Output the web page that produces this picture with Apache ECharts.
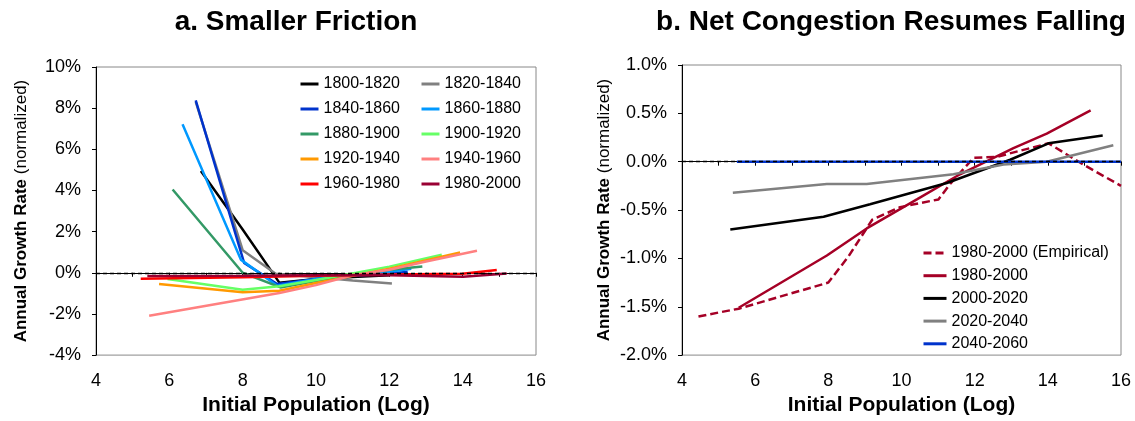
<!DOCTYPE html>
<html lang="en">
<head>
<meta charset="UTF-8">
<title>Annual growth rate by initial population</title>
<script src="https://cdn.jsdelivr.net/npm/echarts@6/dist/echarts.min.js"></script>
<style>
  body { margin: 0; background: #fff; }
  #chart { width: 1135px; height: 421px; }
</style>
</head>
<body>
<div id="chart"></div>
<script>
// panel a: [log initial population, growth rate %]
var a1800 = [[6.86, 4.95], [8, 2.1], [9, -0.48], [10, -0.3], [11, -0.2], [12, -0.12]];
var a1820 = [[6.72, 8.3], [8, 1.1], [8.9, -0.05], [10.2, -0.24], [11, -0.38], [12.07, -0.52]];
var a1840 = [[6.72, 8.38], [8.04, 0.48], [8.94, -0.55], [10, -0.3], [11, -0.15], [12, -0.05], [12.5, 0.05]];
var a1860 = [[6.36, 7.22], [7.95, 0.64], [8.94, -0.63], [10, -0.3], [11, -0.1], [12, 0.05], [12.6, 0.19]];
var a1880 = [[6.09, 4.05], [8, 0], [9.03, -0.71], [10, -0.4], [11, -0.1], [12, 0.15], [12.9, 0.3]];
var a1900 = [[5.95, -0.3], [8, -0.82], [9, -0.65], [10, -0.35], [11.1, 0], [12, 0.3], [13.43, 0.88]];
var a1920 = [[5.72, -0.55], [8, -0.95], [9, -0.87], [10, -0.5], [11, -0.15], [12, 0.2], [13.93, 0.99]];
var a1940 = [[5.45, -2.09], [9, -0.98], [10, -0.6], [11, -0.12], [12, 0.15], [13, 0.55], [14.39, 1.07]];
var a1960 = [[5.22, -0.29], [8, -0.22], [10, -0.15], [12, -0.08], [14, -0.05], [14.93, 0.13]];
var a1980 = [[5.4, -0.16], [8, -0.15], [10, -0.12], [12, -0.12], [14.01, -0.19], [15.2, -0.03]];

// panel b
var bEmpirical = [[4.45, -1.6], [5.55, -1.52], [8, -1.25], [8.55, -0.98], [9.2, -0.6], [9.96, -0.47],
  [11.01, -0.39], [11.33, -0.23], [11.97, 0.04], [12.6, 0.05], [14.02, 0.19], [14.97, -0.03], [16, -0.25]];
var b1980 = [[5.55, -1.51], [7.96, -0.97], [9.05, -0.69], [10.42, -0.39], [11.6, -0.13], [13.06, 0.14], [13.97, 0.29], [15.17, 0.53]];
var b2000 = [[5.32, -0.7], [7.87, -0.57], [9.14, -0.44], [11.24, -0.22], [12.97, 0.02], [14.02, 0.19], [15.5, 0.27]];
var b2020 = [[5.39, -0.32], [7.96, -0.23], [9.05, -0.23], [11.42, -0.13], [12.79, -0.03], [13.97, 0], [15.79, 0.17]];
var b2040 = [[5.5, 0], [16, 0]];

var namesA = ['1800-1820', '1820-1840', '1840-1860', '1860-1880', '1880-1900',
  '1900-1920', '1920-1940', '1940-1960', '1960-1980', '1980-2000'];
var colorsA = ['#000000', '#808080', '#0033CC', '#0099FF', '#339966',
  '#66FF66', '#FF9900', '#FF8080', '#FF0000', '#990033'];
var dataA = [a1800, a1820, a1840, a1860, a1880, a1900, a1920, a1940, a1960, a1980];

var namesB = ['1980-2000 (Empirical)', '1980-2000 ', '2000-2020', '2020-2040', '2040-2060'];
var colorsB = ['#A50026', '#A50026', '#000000', '#808080', '#0033CC'];
var dataB = [bEmpirical, b1980, b2000, b2020, b2040];

var font = 'Liberation Sans, Arial, sans-serif';

var zeroLine = {
  silent: true,
  symbol: ['none', 'none'],
  label: { show: false },
  lineStyle: { color: '#000', type: [4, 3], width: 1.3 },
  data: [{ yAxis: 0 }]
};

var series = [];
dataA.forEach(function (d, i) {
  var s = {
    name: namesA[i], type: 'line', xAxisIndex: 0, yAxisIndex: 0,
    data: d, symbol: 'none',
    lineStyle: { color: colorsA[i], width: 2.5 },
    itemStyle: { color: colorsA[i] }
  };
  if (i === 0) s.markLine = zeroLine;
  series.push(s);
});
dataB.forEach(function (d, i) {
  var s = {
    name: namesB[i], type: 'line', xAxisIndex: 1, yAxisIndex: 1,
    data: d, symbol: 'none',
    lineStyle: { color: colorsB[i], width: 2.5, type: i === 0 ? [8, 4] : 'solid' },
    itemStyle: { color: colorsB[i] }
  };
  if (i === 0) s.markLine = zeroLine;
  series.push(s);
});

function xAxisOf(idx) {
  return {
    type: 'value', gridIndex: idx, min: 4, max: 16, interval: 2,
    name: 'Initial Population (Log)', nameLocation: 'middle', nameGap: 38,
    nameTextStyle: { fontFamily: font, fontSize: 21, fontWeight: 'bold', color: '#000' },
    axisLine: { lineStyle: { color: '#000', width: 1 } },
    axisTick: { length: 4, lineStyle: { color: '#000' } },
    minorTick: { show: true, splitNumber: 2, length: 4, lineStyle: { color: '#000' } },
    splitLine: { show: false },
    axisLabel: { fontFamily: font, fontSize: 18, color: '#000', margin: 17 }
  };
}

function yAxisOf(idx, min, max, step, fmt, gap) {
  return {
    type: 'value', gridIndex: idx, min: min, max: max, interval: step,
    name: '{b|Annual Growth Rate} {n|(normalized)}', nameLocation: 'middle', nameGap: gap,
    nameTextStyle: {
      fontFamily: font, fontSize: 17, color: '#000',
      rich: {
        b: { fontFamily: font, fontSize: 17, fontWeight: 'bold', color: '#000' },
        n: { fontFamily: font, fontSize: 17, color: '#000' }
      }
    },
    axisLine: { show: true, lineStyle: { color: '#000', width: 1 } },
    axisTick: { show: true, length: 4, lineStyle: { color: '#000' } },
    splitLine: { show: false },
    axisLabel: { fontFamily: font, fontSize: 18, color: '#000', margin: 15, formatter: fmt }
  };
}

// legend draws the line only, no marker
var legendBase = {
  orient: 'vertical', padding: 0, itemHeight: 14,
  itemStyle: { opacity: 0 },
  lineStyle: { width: 3 },
  textStyle: { fontFamily: font, fontSize: 16, lineHeight: 16, color: '#000' }
};
function legendOf(extra) {
  return Object.assign({}, legendBase, extra);
}

var option = {
  animation: false,
  backgroundColor: '#fff',
  title: [
    { text: 'a. Smaller Friction', left: 296, top: 8, textAlign: 'center', padding: 0,
      textStyle: { fontFamily: font, fontSize: 28, fontWeight: 'bold', color: '#000' } },
    { text: 'b. Net Congestion Resumes Falling', left: 891, top: 8, textAlign: 'center', padding: 0,
      textStyle: { fontFamily: font, fontSize: 28, fontWeight: 'bold', color: '#000' } }
  ],
  grid: [
    { left: 96, right: 599, top: 67, bottom: 60, show: true, borderColor: '#888', borderWidth: 1 },
    { left: 682, right: 14, top: 65, bottom: 60, show: true, borderColor: '#888', borderWidth: 1 }
  ],
  legend: [
    legendOf({ data: [namesA[0], namesA[2], namesA[4], namesA[6], namesA[8]],
      left: 299, top: 76, itemGap: 9, itemWidth: 18 }),
    legendOf({ data: [namesA[1], namesA[3], namesA[5], namesA[7], namesA[9]],
      left: 420, top: 76, itemGap: 9, itemWidth: 18 }),
    legendOf({ data: namesB, left: 922, top: 245, itemGap: 6.7, itemWidth: 23 })
  ],
  xAxis: [xAxisOf(0), xAxisOf(1)],
  yAxis: [
    yAxisOf(0, -4, 10, 2, function (v) { return v + '%'; }, 66),
    yAxisOf(1, -2, 1, 0.5, function (v) { return v.toFixed(1) + '%'; }, 69)
  ],
  series: series
};

var chart = echarts.init(document.getElementById('chart'));
chart.setOption(option);
</script>
</body>
</html>
